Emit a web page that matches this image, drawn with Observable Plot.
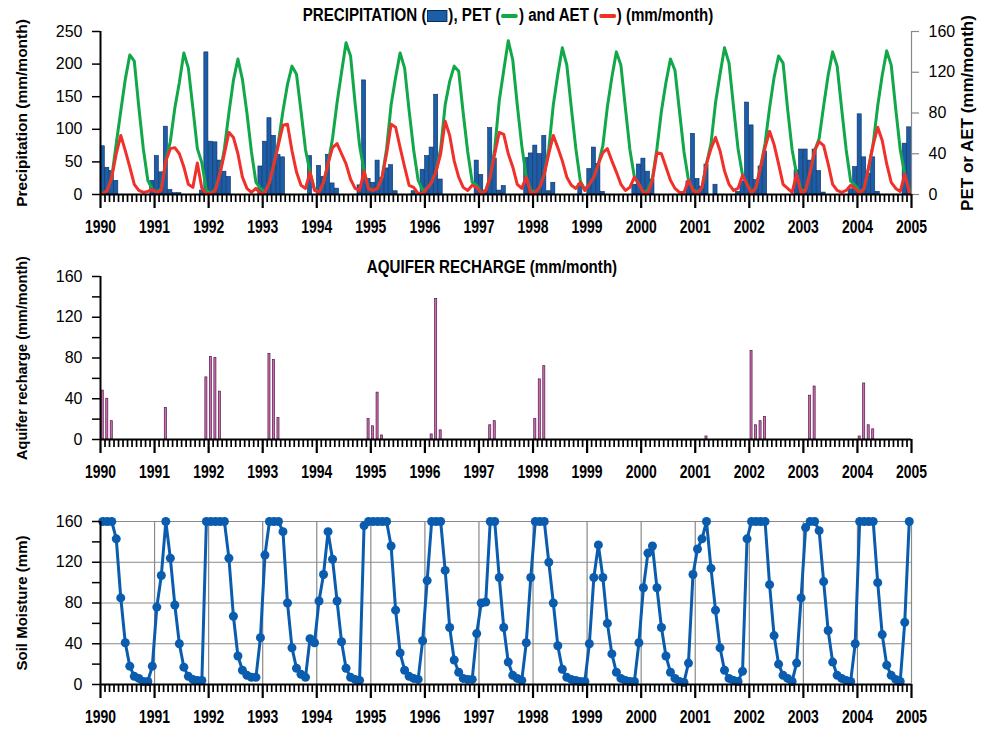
<!DOCTYPE html>
<html><head><meta charset="utf-8">
<script src="https://cdn.jsdelivr.net/npm/d3@7"></script>
<script src="https://cdn.jsdelivr.net/npm/@observablehq/plot@0.6"></script>
<style>
body{margin:0;background:#fff}
#wrap{position:relative;width:982px;height:738px;overflow:hidden;font-family:"Liberation Sans",Arial,sans-serif}
#wrap svg{position:absolute;left:0;overflow:visible}
.title{position:absolute;font-family:"Liberation Sans",Arial,sans-serif;font-weight:bold;font-size:18px;line-height:20px;color:#000;white-space:nowrap;transform:translate(-50%,-50%) scaleX(0.84)}
.sw{display:inline-block;vertical-align:middle;margin:0 1px}
</style></head>
<body><div id="wrap">
<div class="title" style="left:508px;top:15px">PRECIPITATION (<span class="sw" style="width:22px;height:10px;background:#1c5daa;border:1px solid #0b2d5c"></span>), PET (<span class="sw" style="width:20px;height:4px;background:#12a84a;border-radius:2px"></span>) and AET (<span class="sw" style="width:20px;height:4px;background:#f0302a;border-radius:2px"></span>) (mm/month)</div>
<div class="title" style="left:492px;top:267px">AQUIFER RECHARGE (mm/month)</div>
</div>
<script>
// ---- DATA (monthly, Jan 1990 .. Dec 2004) ----
const years = [1990,1991,1992,1993,1994,1995,1996,1997,1998,1999,2000,2001,2002,2003,2004,2005];
const precipTicks = [0,50,100,150,200,250];
const petTicks = [0,40,80,120,160];
const rechargeTicks = [0,40,80,120,160];
const soilTicks = [0,40,80,120,160];

const precip = [
 74,41,36,21,0,0,0,0,0,0,0,21,
 59,34,104,7,2,2,0,0,0,0,6,218,
 81,80,52,35,27,0,0,0,0,0,0,43,
 81,117,90,61,57,0,0,0,0,0,59,0,
 44,27,61,17,9,0,0,0,0,14,175,24,
 18,52,25,40,45,5,0,0,0,5,0,38,
 59,72,153,23,0,0,0,0,0,0,0,52,
 30,6,102,55,6,13,0,0,0,0,56,63,
 75,62,90,5,18,0,0,0,0,0,16,0,
 39,72,47,4,0,0,0,0,0,0,15,46,
 55,35,23,0,0,0,0,0,0,0,20,93,
 24,12,46,0,15,0,0,0,0,4,20,141,
 106,22,43,66,0,0,0,0,0,0,37,69,
 69,52,69,36,3,0,0,0,0,0,8,42,
 123,57,32,57,4,0,0,0,0,0,78,103
];
const pet = [
 1,4,17,50,82,113,137,131,86,45,14,5,
 2,6,33,52,85,110,139,124,85,45,31,4,
 1,5,20,45,80,112,133,113,80,42,12,6,
 2,12,30,52,82,108,126,118,82,44,22,5,
 2,12,30,55,90,120,149,136,90,48,23,6,
 4,6,17,45,88,115,139,124,82,44,14,4,
 6,12,23,45,88,111,126,121,80,42,12,9,
 1,4,17,45,92,122,151,132,88,48,17,4,
 2,7,20,45,88,118,144,127,85,45,13,5,
 10,17,30,48,86,115,140,127,85,44,17,10,
 2,4,16,45,82,110,133,122,82,42,14,5,
 2,7,30,50,90,118,144,129,86,45,19,10,
 2,7,27,50,85,115,136,129,84,44,20,4,
 4,22,43,55,87,117,140,126,84,44,13,9,
 2,6,27,50,87,117,141,127,84,44,20,4
];
const aet = [
 1,4,17,40,58,43,27,10,4,2,3,5,
 2,4,33,45,46,40,27,10,7,31,6,1,
 1,4,20,40,61,56,40,17,6,2,6,1,
 2,12,30,49,68,69,43,22,9,6,22,4,
 2,12,30,46,50,40,30,15,6,4,23,5,
 4,6,17,40,69,66,46,27,9,7,1,1,
 6,12,23,40,72,58,33,17,7,4,9,7,
 1,4,17,40,61,59,40,27,10,6,17,1,
 2,7,20,40,58,46,33,17,9,6,12,4,
 10,17,30,41,45,33,22,10,4,7,17,10,
 2,1,14,41,40,27,14,6,2,2,14,4,
 1,7,30,45,56,43,23,10,4,6,19,10,
 1,7,27,46,62,49,30,10,6,2,20,1,
 4,22,43,52,48,30,10,4,2,4,9,6,
 1,6,27,49,66,53,30,12,6,3,20,2
];
const recharge = [
 48,40,18,0,0,0,0,0,0,0,0,0,
 0,0,31,0,0,0,0,0,0,0,0,61,
 81,80,47,0,0,0,0,0,0,0,0,0,
 0,84,78,21,0,0,0,0,0,0,0,0,
 0,0,0,0,0,0,0,0,0,0,0,20,
 13,46,4,0,0,0,0,0,0,0,0,0,
 0,5,138,9,0,0,0,0,0,0,0,0,
 0,0,14,18,0,0,0,0,0,0,0,0,
 20,59,72,0,0,0,0,0,0,0,0,0,
 0,0,0,0,0,0,0,0,0,0,0,0,
 0,0,0,0,0,0,0,0,0,0,0,0,
 0,0,3,0,0,0,0,0,0,0,0,0,
 87,14,18,22,0,0,0,0,0,0,0,0,
 0,43,52,0,0,0,0,0,0,0,0,0,
 3,55,14,10,0,0,0,0,0,0,0,0
];
const soil = [
 160,160,160,143,85,41,18,8,6,3,3,18,
 76,107,160,124,78,40,17,8,5,4,4,160,
 160,160,160,160,124,67,28,14,9,7,7,46,
 127,160,160,160,150,80,36,16,10,7,45,41,
 82,108,150,123,82,42,16,7,5,4,156,160,
 160,160,160,160,136,73,31,14,8,6,5,43,
 102,160,160,160,112,56,24,12,6,5,5,50,
 80,81,160,160,105,56,22,9,6,4,41,105,
 160,160,160,120,80,38,15,7,5,4,3,3,
 40,105,137,105,60,30,12,6,4,3,3,41,
 95,129,136,95,56,28,12,6,3,2,21,108,
 133,143,160,114,73,36,14,6,4,3,13,143,
 160,160,160,160,98,48,20,9,6,3,21,85,
 154,160,160,151,101,53,22,9,6,4,3,40,
 160,160,160,160,100,49,19,9,5,3,61,160
];

// ---- build rows ----
const rows = precip.map((p, i) => ({
  i, t0: 1990 + i/12, t1: 1990 + (i+1)/12, tm: 1990 + (i+0.5)/12,
  precip: p, pet: pet[i], aet: aet[i], recharge: recharge[i], soil: soil[i]
}));
const monthTicks = d3.range(1, 180).filter(i => i % 12).map(i => 1990 + i/12);
const k = 250/160; // right-axis (PET/AET) to left-axis (precip) scale

const FONT = '"Liberation Sans", Arial, sans-serif';
const W = 982, ML = 100, MR = 71;

function xAxes() {
  return [
    Plot.axisX({ticks: monthTicks, tickSize: 8, strokeWidth: 1.7, tickFormat: () => "", label: null}),
    Plot.axisX({ticks: years, tickSize: 14, strokeWidth: 2.2, tickPadding: 11, tickFormat: d => String(d),
      fontWeight: "bold", fontSize: 19, fontFamily: FONT, label: null}),
    Plot.ruleY([0], {stroke: "#000", strokeWidth: 2.2})
  ];
}
function ylabel(txt, size) {
  return Plot.text([txt], {text: d => d, frameAnchor: "left", dx: -78, rotate: -90, textAnchor: "middle",
    fontWeight: "bold", fontSize: size || 15, fontFamily: FONT, lineAnchor: "middle"});
}

// ---- Panel 1: precipitation, PET, AET ----
const p1 = Plot.plot({
  width: W, height: 245, marginLeft: ML, marginRight: MR, marginTop: 31, marginBottom: 51,
  style: {fontFamily: FONT, background: "transparent", overflow: "visible"},
  x: {domain: [1990, 2005]},
  y: {domain: [0, 250]},
  marks: [
    Plot.rectY(rows, {x1: "t0", x2: "t1", y: "precip", fill: "#1c5daa", stroke: "#0b2d5c", strokeWidth: 0.6, insetLeft: 0.2, insetRight: 0.2}),
    Plot.line(rows, {x: "tm", y: d => d.pet * k, stroke: "#12a84a", strokeWidth: 3}),
    Plot.line(rows, {x: "tm", y: d => d.aet * k, stroke: "#f0302a", strokeWidth: 3}),
    Plot.ruleX([1990], {stroke: "#000", strokeWidth: 2}),
    Plot.ruleX([2005], {stroke: "#888", strokeWidth: 1.2}),
    Plot.axisY({ticks: precipTicks, tickSize: 8, tickPadding: 10, fontSize: 16, strokeWidth: 1.5, label: null}),
    Plot.axisY({anchor: "right", ticks: petTicks.map(v => v * k), tickFormat: v => String(Math.round(v / k)),
      tickSize: 7, tickPadding: 10, fontSize: 16, stroke: "#888", strokeWidth: 1.2, label: null}),
    ...xAxes(),
    ylabel("Precipitation (mm/month)", 15.5),
    Plot.text(["PET or AET (mm/month)"], {text: d => d, frameAnchor: "right", dx: 56, rotate: -90, textAnchor: "middle",
      fontWeight: "bold", fontSize: 17, fontFamily: FONT, lineAnchor: "middle"})
  ]
});
p1.style.top = "0px";

// ---- Panel 2: aquifer recharge ----
const p2 = Plot.plot({
  width: W, height: 245, marginLeft: ML, marginRight: MR, marginTop: 31, marginBottom: 51,
  style: {fontFamily: FONT, background: "transparent", overflow: "visible"},
  x: {domain: [1990, 2005]},
  y: {domain: [0, 160]},
  marks: [
    Plot.rectY(rows.filter(d => d.recharge > 0), {x1: d => d.t0 + 0.27/12, x2: d => d.t0 + 0.73/12, y: "recharge",
      fill: "#cf6cb2", stroke: "#4d1a45", strokeWidth: 0.7}),
    Plot.ruleX([1990], {stroke: "#000", strokeWidth: 2}),
    Plot.axisY({ticks: rechargeTicks, tickSize: 8, tickPadding: 10, fontSize: 16, strokeWidth: 1.5, label: null}),
    Plot.axisY({ticks: [20, 60, 100, 140], tickSize: 8, tickFormat: () => "", strokeWidth: 1.5, label: null}),
    ...xAxes(),
    ylabel("Aquifer recharge (mm/month)", 14.5)
  ]
});
p2.style.top = "245px";

// ---- Panel 3: soil moisture ----
const p3 = Plot.plot({
  width: W, height: 248, marginLeft: ML, marginRight: MR, marginTop: 31, marginBottom: 54,
  style: {fontFamily: FONT, background: "transparent", overflow: "visible"},
  x: {domain: [1990, 2005]},
  y: {domain: [0, 160]},
  marks: [
    Plot.gridY({ticks: [40, 80, 120, 160], stroke: "#8a8a8a", strokeOpacity: 1, strokeWidth: 1.2}),
    Plot.gridX({ticks: years.slice(1), stroke: "#8a8a8a", strokeOpacity: 1, strokeWidth: 1.2}),
    Plot.line(rows, {x: "tm", y: "soil", stroke: "#0a5cae", strokeWidth: 3}),
    Plot.dot(rows, {x: "tm", y: "soil", r: 4.5, fill: "#0a5cae"}),
    Plot.ruleX([1990], {stroke: "#000", strokeWidth: 2}),
    Plot.axisY({ticks: soilTicks, tickSize: 8, tickPadding: 10, fontSize: 16, strokeWidth: 1.5, label: null}),
    Plot.axisY({ticks: [20, 60, 100, 140], tickSize: 8, tickFormat: () => "", strokeWidth: 1.5, label: null}),
    ...xAxes(),
    ylabel("Soil Moisture (mm)", 15)
  ]
});
p3.style.top = "490px";

const wrap = document.getElementById("wrap");
for (const p of [p1, p2, p3]) {
  wrap.appendChild(p);
  // condensed look of the bold year labels
  d3.select(p).selectAll("text").filter(function() { return /^\d{4}$/.test(this.textContent); })
    .attr("textLength", 31).attr("lengthAdjust", "spacingAndGlyphs");
}
</script>
</body></html>
